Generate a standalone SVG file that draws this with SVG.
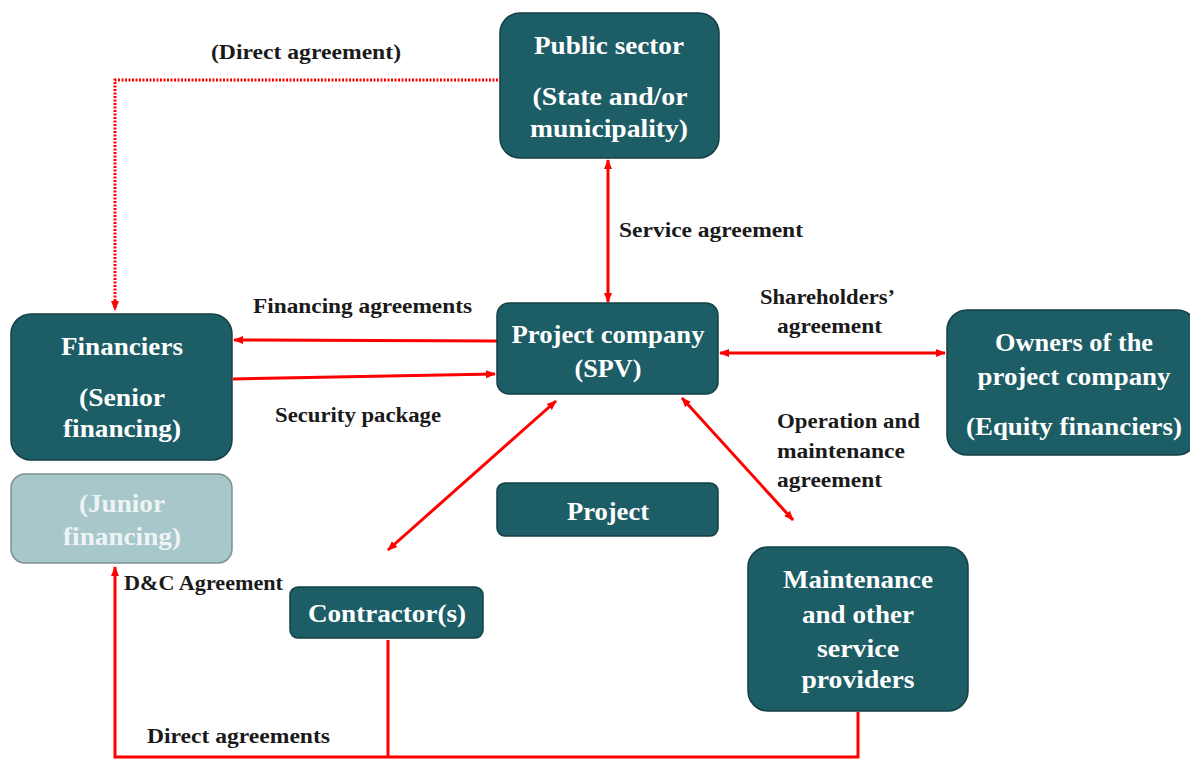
<svg xmlns="http://www.w3.org/2000/svg" width="1190" height="760" viewBox="0 0 1190 760">
<defs>
<style>
.node{fill:#1d5d66;stroke:#143f45;stroke-width:1.5}
.jr{fill:#a8c7cb;stroke:#7d9194;stroke-width:1.5}
.nt{font-family:"Liberation Serif",serif;font-weight:bold;font-size:25px;fill:#ffffff;text-anchor:middle}
.jt{font-family:"Liberation Serif",serif;font-weight:bold;font-size:25px;fill:#eef4f4;text-anchor:middle}
.lb{font-family:"Liberation Serif",serif;font-weight:bold;font-size:20px;fill:#1a1a1a}
.ln{fill:none;stroke:#ff0000;stroke-width:3}
.dot{fill:none;stroke:#ff0000;stroke-width:3;stroke-dasharray:2 1.5}
</style>
<marker id="ah" viewBox="0 0 10 10" refX="9" refY="5" markerWidth="10" markerHeight="10" markerUnits="userSpaceOnUse" orient="auto-start-reverse">
<path d="M0,1 L10,5 L0,9 Z" fill="#ff0000"/>
</marker>
</defs>
<rect width="1190" height="760" fill="#ffffff"/>

<g id="connectors">
<polyline class="dot" points="498,80 115,80 115,310" marker-end="url(#ah)"/>
<line class="ln" x1="608" y1="160" x2="608" y2="302" marker-start="url(#ah)" marker-end="url(#ah)"/>
<line class="ln" x1="497" y1="341" x2="234" y2="340" marker-end="url(#ah)"/>
<line class="ln" x1="233" y1="379" x2="495" y2="374" marker-end="url(#ah)"/>
<line class="ln" x1="720" y1="353" x2="945" y2="353" marker-start="url(#ah)" marker-end="url(#ah)"/>
<line class="ln" x1="556" y1="401" x2="388" y2="550" marker-start="url(#ah)" marker-end="url(#ah)"/>
<line class="ln" x1="682" y1="398" x2="793" y2="520" marker-start="url(#ah)" marker-end="url(#ah)"/>
<polyline class="ln" points="858,712 858,757 115,757 115,567" marker-end="url(#ah)"/>
<line class="ln" x1="388" y1="640" x2="388" y2="757"/>
</g>

<g id="labels">
<text class="lb" x="211" y="59" textLength="190" lengthAdjust="spacingAndGlyphs">(Direct agreement)</text>
<text class="lb" x="619" y="237" textLength="184" lengthAdjust="spacingAndGlyphs">Service agreement</text>
<text class="lb" x="253" y="313" textLength="219" lengthAdjust="spacingAndGlyphs">Financing agreements</text>
<text class="lb" x="275" y="422" textLength="166" lengthAdjust="spacingAndGlyphs">Security package</text>
<text class="lb" x="760" y="304" textLength="135" lengthAdjust="spacingAndGlyphs">Shareholders’</text>
<text class="lb" x="777" y="333" textLength="105" lengthAdjust="spacingAndGlyphs">agreement</text>
<text class="lb" x="777" y="428" textLength="143" lengthAdjust="spacingAndGlyphs">Operation and</text>
<text class="lb" x="777" y="458" textLength="128" lengthAdjust="spacingAndGlyphs">maintenance</text>
<text class="lb" x="777" y="487" textLength="105" lengthAdjust="spacingAndGlyphs">agreement</text>
<text class="lb" x="124" y="590" textLength="159" lengthAdjust="spacingAndGlyphs">D&amp;C Agreement</text>
<text class="lb" x="147" y="743" textLength="183" lengthAdjust="spacingAndGlyphs">Direct agreements</text>
</g>

<g id="public-sector">
<rect class="node" x="500" y="13" width="219" height="145" rx="20"/>
<text class="nt" x="609" y="54" textLength="150" lengthAdjust="spacingAndGlyphs">Public sector</text>
<text class="nt" x="610" y="105" textLength="155" lengthAdjust="spacingAndGlyphs">(State and/or</text>
<text class="nt" x="609" y="137" textLength="158" lengthAdjust="spacingAndGlyphs">municipality)</text>
</g>

<g id="financiers">
<rect class="node" x="11" y="314" width="221" height="146" rx="20"/>
<text class="nt" x="122" y="355" textLength="122" lengthAdjust="spacingAndGlyphs">Financiers</text>
<text class="nt" x="122" y="406" textLength="86" lengthAdjust="spacingAndGlyphs">(Senior</text>
<text class="nt" x="122" y="437" textLength="118" lengthAdjust="spacingAndGlyphs">financing)</text>
</g>

<g id="junior">
<rect class="jr" x="11" y="474" width="221" height="89" rx="14"/>
<text class="jt" x="122" y="512" textLength="86" lengthAdjust="spacingAndGlyphs">(Junior</text>
<text class="jt" x="122" y="545" textLength="118" lengthAdjust="spacingAndGlyphs">financing)</text>
</g>

<g id="project-company">
<rect class="node" x="497" y="303" width="221" height="91" rx="12"/>
<text class="nt" x="608" y="343" textLength="193" lengthAdjust="spacingAndGlyphs">Project company</text>
<text class="nt" x="608" y="377" textLength="67" lengthAdjust="spacingAndGlyphs">(SPV)</text>
</g>

<g id="owners">
<rect class="node" x="947" y="310" width="250" height="145" rx="20"/>
<text class="nt" x="1074" y="351" textLength="158" lengthAdjust="spacingAndGlyphs">Owners of the</text>
<text class="nt" x="1074" y="385" textLength="193" lengthAdjust="spacingAndGlyphs">project company</text>
<text class="nt" x="1074" y="435" textLength="216" lengthAdjust="spacingAndGlyphs">(Equity financiers)</text>
</g>

<g id="project">
<rect class="node" x="497" y="483" width="221" height="53" rx="8"/>
<text class="nt" x="608" y="520" textLength="82" lengthAdjust="spacingAndGlyphs">Project</text>
</g>

<g id="contractors">
<rect class="node" x="290" y="587" width="193" height="51" rx="8"/>
<text class="nt" x="387" y="622" textLength="158" lengthAdjust="spacingAndGlyphs">Contractor(s)</text>
</g>

<g id="maintenance">
<rect class="node" x="748" y="547" width="220" height="164" rx="20"/>
<text class="nt" x="858" y="588" textLength="150" lengthAdjust="spacingAndGlyphs">Maintenance</text>
<text class="nt" x="858" y="623" textLength="112" lengthAdjust="spacingAndGlyphs">and other</text>
<text class="nt" x="858" y="657" textLength="82" lengthAdjust="spacingAndGlyphs">service</text>
<text class="nt" x="858" y="688" textLength="113" lengthAdjust="spacingAndGlyphs">providers</text>
</g>
</svg>
